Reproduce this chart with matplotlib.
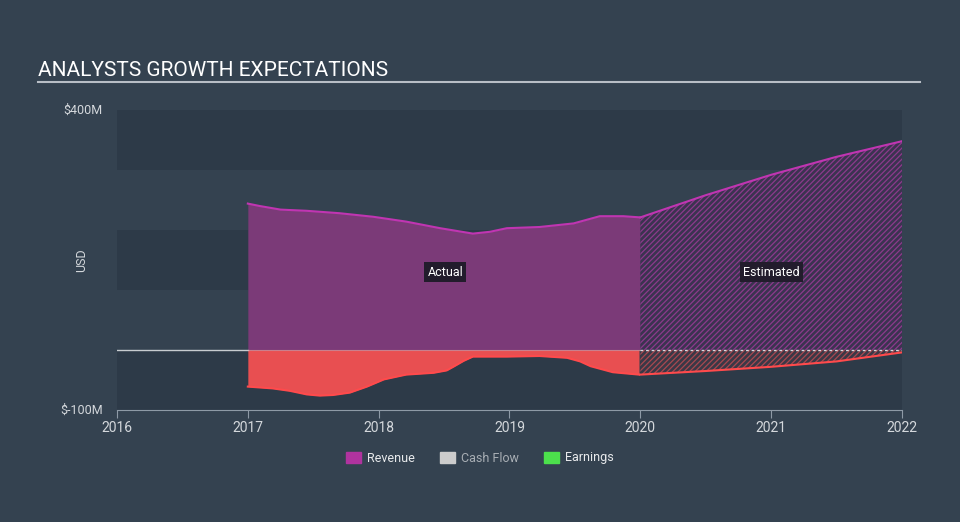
import matplotlib.pyplot as plt
from matplotlib.patches import Patch
from matplotlib.lines import Line2D

plt.rcParams['font.family'] = ['Roboto', 'DejaVu Sans']
plt.rcParams['hatch.linewidth'] = 0.9

# revenue, actual (USD millions)
rev_years = [2017.0, 2017.09, 2017.25, 2017.45, 2017.70, 2017.96, 2018.21, 2018.47,
             2018.72, 2018.85, 2018.98, 2019.23, 2019.49, 2019.69, 2019.87, 2020.0]
rev_vals = [244, 240, 234, 232, 228, 222, 214, 203, 194, 197, 203, 205, 211, 223, 223, 221]

# revenue, estimated
rev_est_years = [2020.0, 2020.5, 2021.0, 2021.5, 2022.0]
rev_est_vals = [221, 258, 292, 322, 348]

# earnings, actual
earn_years = [2017.0, 2017.19, 2017.32, 2017.45, 2017.55, 2017.65, 2017.78, 2017.91, 2018.04, 2018.21,
              2018.42, 2018.52, 2018.57, 2018.65, 2018.72, 2018.98, 2019.23, 2019.44, 2019.54,
              2019.62, 2019.79, 2019.99]
earn_vals = [-61, -64, -68, -74, -76, -75, -71, -61, -49, -41, -38, -34, -28, -18, -11, -11, -10,
             -13, -19, -27, -37, -41]

# earnings, estimated
earn_est_years = [2020.0, 2020.5, 2021.0, 2021.5, 2022.0]
earn_est_vals = [-41, -35, -28, -19, -4]

x_ticks = [2016, 2017, 2018, 2019, 2020, 2021, 2022]

bg = '#344250'
band = '#2d3a48'
rev_fill = '#7b3a78'
rev_line = '#c035b2'
earn_fill = '#e84f51'
earn_line = '#ff4a4c'

fig = plt.figure(figsize=(9.6, 5.22), dpi=100, facecolor=bg)
ax = fig.add_axes([117 / 960, 1 - 410 / 522, (902 - 117) / 960, 300 / 522])
ax.set_facecolor(bg)
ax.set_xlim(2016, 2022)
ax.set_ylim(-100, 400)

# alternating bands
for lo in (-100, 100, 300):
    ax.axhspan(lo, lo + 100, color=band, lw=0, zorder=0)

# actual
ax.fill_between(rev_years, 0, rev_vals, color=rev_fill, lw=0, zorder=2)
ax.plot(rev_years, rev_vals, color=rev_line, lw=1.5, zorder=3)
ax.fill_between(earn_years, 0, earn_vals, color=earn_fill, lw=0, zorder=2)
ax.plot(earn_years, earn_vals, color=earn_line, lw=1.5, zorder=3)

# estimated
ax.fill_between(rev_est_years, 0, rev_est_vals, facecolor='#3b3350', edgecolor='#8c3a8c',
                hatch='//////', lw=0, zorder=2)
ax.plot(rev_est_years, rev_est_vals, color=rev_line, lw=1.5, zorder=3)
ax.fill_between(earn_est_years, 0, earn_est_vals, facecolor='#3a3846', edgecolor='#a84850',
                hatch='//////', lw=0, zorder=2)
ax.plot(earn_est_years, earn_est_vals, color=earn_line, lw=1.5, zorder=3)

# zero line
ax.plot([2016, 2017], [0, 0], color='#c8ccd0', lw=1, zorder=4)
ax.plot([2017, 2020], [0, 0], color='#e8a8b0', lw=0.8, alpha=0.6, zorder=4)
ax.plot([2020, 2022], [0, 0], color='#d8d8de', lw=1, ls=(0, (2, 2)), zorder=4)

box = dict(boxstyle='square,pad=0.25', fc='#221c2c', ec='none')
ax.text(2018.51, 130, 'Actual', color='white', fontsize=9, ha='center', va='center', bbox=box, zorder=5)
ax.text(2021.0, 130, 'Estimated', color='white', fontsize=9, ha='center', va='center', bbox=box, zorder=5)

for s in ('top', 'right', 'left'):
    ax.spines[s].set_visible(False)
ax.spines['bottom'].set_color('#8e9aa6')
ax.set_xticks(x_ticks)
ax.set_xticklabels([str(t) for t in x_ticks])
ax.tick_params(axis='x', colors='#8e9aa6', labelcolor='#d4d8dc', labelsize=10, length=6, pad=2)
ax.set_yticks([])

ax.text(-0.018, 400, '$400M', transform=ax.get_yaxis_transform(), ha='right', va='center',
        color='#d4d8dc', fontsize=9)
ax.text(-0.018, -100, '$-100M', transform=ax.get_yaxis_transform(), ha='right', va='center',
        color='#d4d8dc', fontsize=9)
fig.text(82 / 960, 1 - 260 / 522, 'USD', rotation=90, ha='center', va='center',
         color='#d4d8dc', fontsize=9)

fig.text(38 / 960, 1 - 76 / 522, 'ANALYSTS GROWTH EXPECTATIONS', color='white', fontsize=15,
         ha='left', va='baseline')
fig.add_artist(Line2D([38 / 960, 920 / 960], [1 - 82 / 522] * 2, color='#b8bec6', lw=1.5))

handles = [Patch(color='#b0339f'), Patch(color='#cccccc'), Patch(color='#4ce04c')]
leg = fig.legend(handles, ['Revenue', 'Cash Flow', 'Earnings'], ncol=3, frameon=False,
                 loc='center', bbox_to_anchor=(0.5, 1 - 458 / 522), fontsize=9,
                 handlelength=1.2, handleheight=1.0, columnspacing=2.0, handletextpad=0.5)
for txt, c in zip(leg.get_texts(), ['#e8eaec', '#a8aeb4', '#e8eaec']):
    txt.set_color(c)

fig.savefig('out.png', dpi=100, facecolor=bg)
